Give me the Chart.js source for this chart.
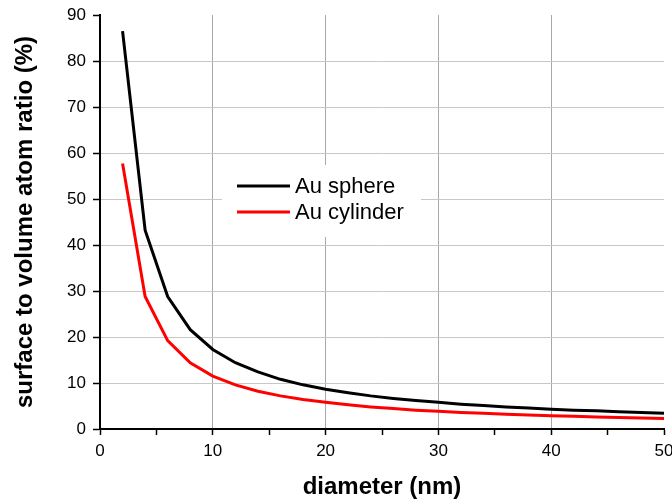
<!DOCTYPE html>
<html>
<head>
<meta charset="utf-8">
<script src="https://cdn.jsdelivr.net/npm/chart.js@4/dist/chart.umd.min.js"></script>
<style>
    html, body { margin: 0; padding: 0; background: #ffffff; }
    #wrap { width: 672px; height: 502px; position: relative; }
</style>
</head>
<body>
<div id="wrap"><canvas id="chart" width="672" height="502"></canvas></div>
<script>
const diameters = [2, 4, 6, 8, 10, 12, 14, 16, 18, 20, 22, 24, 26, 28, 30, 32, 34, 36, 38, 40, 42, 44, 46, 48, 50];
const sphereValues = [86.5, 43.2, 28.8, 21.6, 17.3, 14.4, 12.4, 10.8, 9.6, 8.65, 7.9, 7.2, 6.65, 6.2, 5.8, 5.4, 5.1, 4.8, 4.55, 4.3, 4.1, 3.95, 3.75, 3.6, 3.45];
const cylinderValues = [57.7, 28.8, 19.2, 14.4, 11.5, 9.6, 8.2, 7.2, 6.4, 5.8, 5.25, 4.8, 4.45, 4.1, 3.85, 3.6, 3.4, 3.2, 3.05, 2.9, 2.75, 2.6, 2.5, 2.4, 2.3];
const seriesNames = ["Au sphere", "Au cylinder"];
const seriesColors = ["#000000", "#ff0000"];
const xRange = [0, 50];
const yRange = [0, 90];

const fontFamily = "'Liberation Sans', Arial, sans-serif";

const toPoints = (values) => diameters.map((d, i) => ({ x: d, y: values[i] }));

// grid only on major ticks, not on the axis ends
const majorGrid = (color, max) => (ctx) => {
    const v = ctx.tick ? ctx.tick.value : 0;
    if (v % 10 !== 0 || v === 0 || v === max) return "rgba(0,0,0,0)";
    return color;
};

const boxLegend = {
    id: "boxLegend",
    afterDatasetsDraw(chart) {
        const ctx = chart.ctx;
        ctx.save();
        ctx.fillStyle = "#ffffff";
        ctx.fillRect(222, 165, 199, 72);
        const rows = [186, 212];
        rows.forEach((y, i) => {
            ctx.strokeStyle = seriesColors[i];
            ctx.lineWidth = 3;
            ctx.beginPath();
            ctx.moveTo(237, y);
            ctx.lineTo(290, y);
            ctx.stroke();
            ctx.fillStyle = "#000000";
            ctx.font = `22px ${fontFamily}`;
            ctx.textBaseline = "middle";
            ctx.fillText(seriesNames[i], 295, y + 1);
        });
        ctx.restore();
    }
};

new Chart(document.getElementById("chart"), {
    type: "line",
    data: {
        datasets: [
            {
                label: seriesNames[0],
                data: toPoints(sphereValues),
                borderColor: seriesColors[0],
                borderWidth: 3,
                pointRadius: 0,
                tension: 0,
                fill: false
            },
            {
                label: seriesNames[1],
                data: toPoints(cylinderValues),
                borderColor: seriesColors[1],
                borderWidth: 3,
                pointRadius: 0,
                tension: 0,
                fill: false
            }
        ]
    },
    options: {
        responsive: false,
        animation: false,
        devicePixelRatio: 1,
        layout: { autoPadding: false, padding: { top: 15, right: 8, left: 0, bottom: 0 } },
        plugins: { legend: { display: false }, tooltip: { enabled: false } },
        scales: {
            x: {
                type: "linear",
                min: xRange[0],
                max: xRange[1],
                afterFit: (scale) => {
                    scale.height = 73;
                    scale.paddingLeft = 0;
                    scale.paddingRight = 0;
                },
                border: { color: "#000000", width: 2 },
                grid: {
                    color: majorGrid("#a8a8a8", xRange[1]),
                    tickColor: "#000000",
                    tickLength: 6,
                    tickWidth: 1.5
                },
                ticks: {
                    stepSize: 5,
                    color: "#000000",
                    padding: 6,
                    maxRotation: 0,
                    font: { family: fontFamily, size: 17 },
                    callback: (v) => (v % 10 === 0 ? String(v) : "")
                },
                title: {
                    display: true,
                    text: "diameter (nm)",
                    color: "#000000",
                    font: { family: fontFamily, size: 24, weight: "bold" },
                    padding: { top: 0, bottom: 0 }
                }
            },
            y: {
                min: yRange[0],
                max: yRange[1],
                afterFit: (scale) => {
                    scale.width = 100;
                    scale.paddingTop = 0;
                    scale.paddingBottom = 0;
                },
                border: { color: "#000000", width: 2 },
                grid: {
                    color: majorGrid("#c8c8c8", yRange[1]),
                    tickColor: "#000000",
                    tickLength: 7,
                    tickWidth: 1.5
                },
                ticks: {
                    stepSize: 5,
                    color: "#000000",
                    padding: 7,
                    font: { family: fontFamily, size: 17 },
                    callback: (v) => (v % 10 === 0 ? String(v) : "")
                },
                title: {
                    display: true,
                    text: "surface to volume atom ratio (%)",
                    color: "#000000",
                    font: { family: fontFamily, size: 24, weight: "bold" },
                    padding: { top: 11, bottom: 0 }
                }
            }
        }
    },
    plugins: [boxLegend]
});
</script>
</body>
</html>
